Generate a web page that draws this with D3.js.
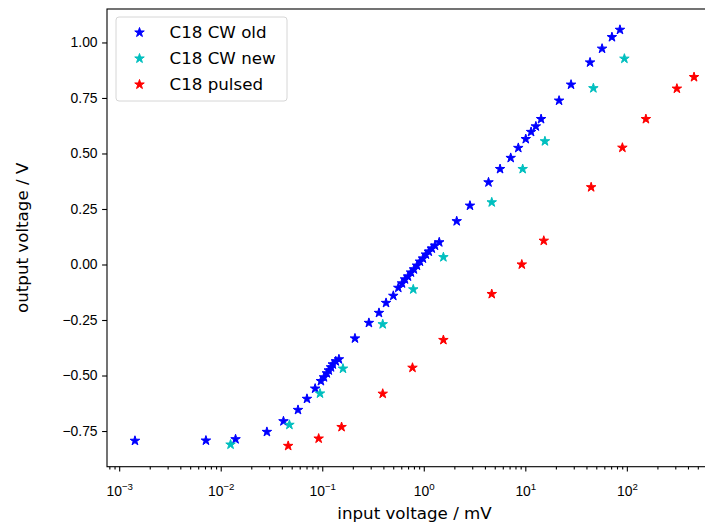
<!DOCTYPE html>
<html>
<head>
<meta charset="utf-8">
<script src="https://cdn.jsdelivr.net/npm/d3@7"></script>
<style>
  body { margin: 0; background: #fff; }
  svg { display: block; font-family: "DejaVu Sans", sans-serif; }
</style>
</head>
<body>
<script>
// input voltage (mV) / output voltage (V)
var oldX = [0.00143, 0.00715, 0.0140, 0.0285, 0.0415, 0.0577, 0.0707, 0.0851, 0.097,
  0.104, 0.111, 0.116, 0.122, 0.127, 0.136, 0.146,
  0.210, 0.288, 0.362, 0.425, 0.501,
  0.561, 0.610, 0.653, 0.699, 0.748, 0.800, 0.857, 0.917, 0.981, 1.05, 1.12, 1.20, 1.29, 1.42,
  2.11, 2.85, 4.34, 5.64, 7.18, 8.53, 10.1, 11.4, 12.7, 14.3,
  21.5, 28.2, 43.4, 57.0, 71.3, 85.5];
var oldY = [-0.794, -0.793, -0.787, -0.754, -0.706, -0.655, -0.605, -0.559, -0.525,
  -0.508, -0.490, -0.477, -0.463, -0.450, -0.436, -0.427,
  -0.333, -0.263, -0.218, -0.173, -0.141,
  -0.105, -0.085, -0.067, -0.054, -0.036, -0.022, -0.005, 0.013, 0.027, 0.045, 0.058, 0.072, 0.085, 0.100,
  0.195, 0.265, 0.370, 0.430, 0.480, 0.525, 0.565, 0.597, 0.622, 0.655,
  0.738, 0.810, 0.910, 0.972, 1.024, 1.057];

var newX = [0.0125, 0.0475, 0.0950, 0.160, 0.394, 0.788, 1.56, 4.67, 9.42, 15.6, 46.8, 94.6];
var newY = [-0.811, -0.722, -0.581, -0.469, -0.269, -0.112, 0.033, 0.280, 0.430, 0.555, 0.794, 0.927];

var pulsedX = [0.0462, 0.0922, 0.155, 0.394, 0.774, 1.56, 4.67, 9.23, 15.2, 44.5, 90.4, 154, 311, 459];
var pulsedY = [-0.817, -0.784, -0.732, -0.582, -0.465, -0.340, -0.133, 0.000, 0.107, 0.348, 0.526, 0.655, 0.792, 0.844];

var seriesNames = ["C18 CW old", "C18 CW new", "C18 pulsed"];
var seriesColors = ["#0000ff", "#00bfbf", "#ff0000"];
var yTicks = [-0.75, -0.5, -0.25, 0, 0.25, 0.5, 0.75, 1.0];
var xTicks = [1e-3, 1e-2, 1e-1, 1e0, 1e1, 1e2];

var series = [
  {name: seriesNames[0], color: seriesColors[0], pts: oldX.map(function(x, i) { return {x: x, y: oldY[i]}; })},
  {name: seriesNames[1], color: seriesColors[1], pts: newX.map(function(x, i) { return {x: x, y: newY[i]}; })},
  {name: seriesNames[2], color: seriesColors[2], pts: pulsedX.map(function(x, i) { return {x: x, y: pulsedY[i]}; })}
];

var margin = {top: 9, left: 107};
var width = 615;     // plot runs past the right edge of the picture
var height = 457.7;

var all = d3.merge(series.map(function(s) { return s.pts; }));

// matplotlib-like 5% autoscale margins
var lx = d3.extent(all, function(d) { return Math.log10(d.x); });
var px = (lx[1] - lx[0]) * 0.05;
var ly = d3.extent(all, function(d) { return d.y; });
var py = (ly[1] - ly[0]) * 0.05;

var xScale = d3.scaleLog().domain([Math.pow(10, lx[0] - px), Math.pow(10, lx[1] + px)]).range([0, width]);
var yScale = d3.scaleLinear().domain([ly[0] - py, ly[1] + py]).range([height, 0]);

var svg = d3.select("body").append("svg")
  .attr("width", 705)
  .attr("height", 526);

var g = svg.append("g")
  .attr("transform", "translate(" + margin.left + "," + margin.top + ")");

// points
var star = d3.symbol().type(d3.symbolStar).size(28);
series.forEach(function(s) {
  g.append("g").selectAll("path")
    .data(s.pts)
    .enter()
    .append("path")
      .attr("d", star)
      .attr("transform", function(d) { return "translate(" + xScale(d.x) + "," + yScale(d.y) + ")"; })
      .attr("fill", s.color)
      .attr("stroke", s.color)
      .attr("stroke-width", 1);
});

// frame
g.append("rect")
  .attr("width", width)
  .attr("height", height)
  .attr("fill", "none")
  .attr("stroke", "#000")
  .attr("stroke-width", 1.1);

// x axis: minor ticks
var minors = [];
for (var e = -4; e <= 2; e++) {
  for (var m = 2; m <= 9; m++) {
    var v = m * Math.pow(10, e);
    if (v >= xScale.domain()[0] && v <= xScale.domain()[1]) minors.push(v);
  }
}
g.append("g")
  .attr("transform", "translate(0," + height + ")")
  .call(d3.axisBottom(xScale).tickValues(minors).tickSize(2.8).tickFormat(""));

var xMajor = g.append("g")
  .attr("transform", "translate(0," + height + ")")
  .call(d3.axisBottom(xScale).tickValues(xTicks).tickSize(4.9).tickPadding(4.5).tickFormat(""));

xMajor.selectAll(".tick")
  .append("text")
    .attr("fill", "#000")
    .attr("y", 29.8)
    .attr("text-anchor", "middle")
    .attr("font-size", "13.9px")
    .each(function(d) {
      var t = d3.select(this);
      var ex = Math.round(Math.log10(d));
      t.append("tspan").text("10");
      t.append("tspan")
        .attr("dy", -6)
        .attr("font-size", "9.7px")
        .text(ex < 0 ? "\u2212" + (-ex) : String(ex));
    });

// y axis
var yAxis = g.append("g")
  .call(d3.axisLeft(yScale).tickValues(yTicks).tickSize(4.9).tickPadding(4.5)
    .tickFormat(function(d) { return d3.format(".2f")(d).replace("-", "\u2212"); }));
yAxis.selectAll("text").attr("font-size", "13.9px").attr("fill", "#000");

svg.selectAll(".domain").remove();
svg.selectAll(".tick line").attr("stroke", "#000").attr("stroke-width", 1.1);

// axis titles
svg.append("text")
  .attr("x", margin.left + width / 2)
  .attr("y", 519)
  .attr("text-anchor", "middle")
  .attr("font-size", "16.7px")
  .attr("fill", "#000")
  .text("input voltage / mV");

svg.append("text")
  .attr("transform", "translate(28," + (margin.top + height / 2) + ") rotate(-90)")
  .attr("text-anchor", "middle")
  .attr("font-size", "16.7px")
  .attr("fill", "#000")
  .text("output voltage / V");

// legend
var legend = svg.append("g").attr("transform", "translate(116,17)");
legend.append("rect")
  .attr("width", 171)
  .attr("height", 84)
  .attr("rx", 3)
  .attr("fill", "#fff")
  .attr("fill-opacity", 0.8)
  .attr("stroke", "#d6d6d6")
  .attr("stroke-width", 1);

var rows = legend.selectAll(".row")
  .data(series)
  .enter()
  .append("g")
    .attr("class", "row")
    .attr("transform", function(d, i) { return "translate(0," + (15.5 + i * 26) + ")"; });

rows.append("path")
  .attr("d", star)
  .attr("transform", "translate(23.5,0)")
  .attr("fill", function(d) { return d.color; })
  .attr("stroke", function(d) { return d.color; })
  .attr("stroke-width", 1);

rows.append("text")
  .attr("x", 53.5)
  .attr("dy", "0.35em")
  .attr("font-size", "16.7px")
  .attr("fill", "#000")
  .text(function(d) { return d.name; });
</script>
</body>
</html>
